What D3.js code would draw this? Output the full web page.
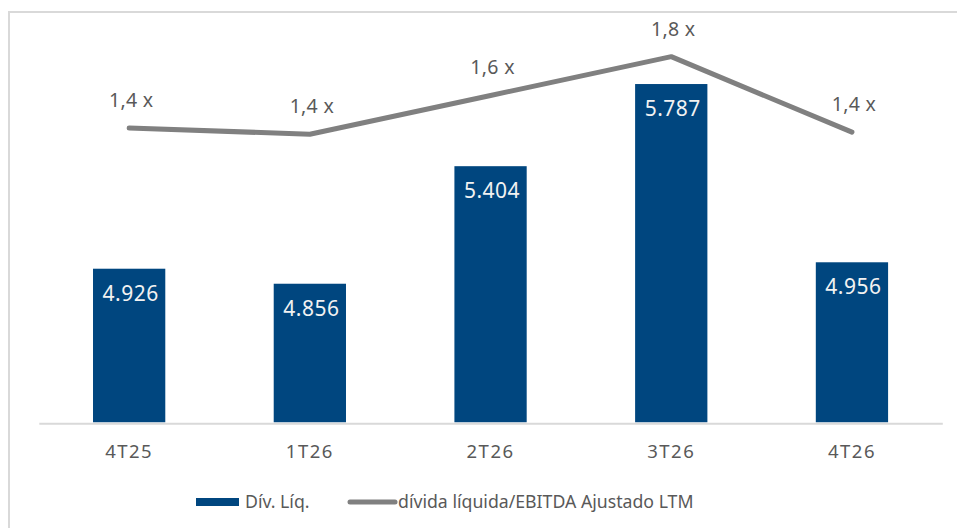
<!DOCTYPE html>
<head>
  <meta charset="utf-8">
  <script src="https://d3js.org/d3.v7.min.js"></script>
  <style>
    body { margin:0; background:#fff; }
    svg { display:block; font-family:"Segoe UI","Noto Sans","Open Sans",sans-serif; }
  </style>
</head>
<body>
<script>
  // data
  const periods = ['4T25', '1T26', '2T26', '3T26', '4T26'];
  const divLiq = [4926, 4856, 5404, 5787, 4956];
  const leverage = [1.43, 1.40, 1.59, 1.78, 1.41];
  const seriesNames = ['Dív. Líq.', 'dívida líquida/EBITDA Ajustado LTM'];

  const W = 957, H = 528;
  const blue = '#00467f', gray = '#808080', textGray = '#595959';

  const ptBR = d3.formatLocale({ decimal: ',', thousands: '.', grouping: [3], currency: ['R$', ''] });
  const fmtBar = ptBR.format(',.0f');
  const fmtX = v => ptBR.format('.1f')(v) + ' x';

  const svg = d3.select('body').append('svg')
    .attr('width', W)
    .attr('height', H);

  // chart frame (right/bottom edges fall outside the picture)
  svg.append('rect')
    .attr('x', 9).attr('y', 12)
    .attr('width', 980).attr('height', 560)
    .attr('fill', 'none')
    .attr('stroke', '#d9d9d9')
    .attr('stroke-width', 2);

  const x = d3.scaleBand()
    .domain(periods)
    .range([38.8, 942.3])
    .paddingInner(0.6)
    .paddingOuter(0.3);

  const y = d3.scaleLinear()
    .domain([4210, 6000])
    .range([422.3, 422.3 - 1.79 * 214.5]);

  const y2 = d3.scaleLinear()
    .domain([1.0, 2.0])
    .range([215.8, 11.8]);

  // bars
  svg.append('g')
    .selectAll('rect')
    .data(divLiq)
    .join('rect')
      .attr('x', (d, i) => x(periods[i]))
      .attr('y', d => y(d))
      .attr('width', x.bandwidth())
      .attr('height', d => y.range()[0] - y(d))
      .attr('fill', blue);

  svg.append('g')
    .selectAll('text')
    .data(divLiq)
    .join('text')
      .attr('x', (d, i) => x(periods[i]) + x.bandwidth() / 2 + 1.5)
      .attr('y', d => y(d) + 32)
      .attr('text-anchor', 'middle')
      .attr('fill', '#f2f2f2')
      .style('font-size', '21px')
      .style('letter-spacing', '0.5px')
      .text(d => fmtBar(d));

  // x axis
  const xAxis = svg.append('g')
    .attr('transform', `translate(0,${y.range()[0] + 1})`)
    .call(d3.axisBottom(x).tickSize(0).tickPadding(22));
  xAxis.select('.domain').attr('stroke', '#d9d9d9').attr('stroke-width', 2);
  xAxis.selectAll('text')
    .attr('fill', textGray)
    .style('font-size', '18.5px')
    .style('font-family', '"Segoe UI","Noto Sans","Open Sans",sans-serif')
    .style('letter-spacing', '1.5px');

  // leverage line
  const line = d3.line()
    .x((d, i) => x(periods[i]) + x.bandwidth() / 2)
    .y(d => y2(d));

  svg.append('path')
    .datum(leverage)
    .attr('d', line)
    .attr('fill', 'none')
    .attr('stroke', gray)
    .attr('stroke-width', 5)
    .attr('stroke-linecap', 'round')
    .attr('stroke-linejoin', 'round');

  svg.append('g')
    .selectAll('text')
    .data(leverage)
    .join('text')
      .attr('x', (d, i) => x(periods[i]) + x.bandwidth() / 2 + 2)
      .attr('y', d => y2(d) - 21)
      .attr('text-anchor', 'middle')
      .attr('fill', textGray)
      .style('font-size', '19.5px')
      .style('letter-spacing', '0.3px')
      .text(d => fmtX(d));

  // legend
  const legend = svg.append('g');
  legend.append('rect')
    .attr('x', 196).attr('y', 498)
    .attr('width', 43).attr('height', 8)
    .attr('fill', blue);
  legend.append('text')
    .attr('x', 245).attr('y', 508)
    .attr('fill', textGray)
    .style('font-size', '17.7px')
    .text(seriesNames[0]);
  legend.append('line')
    .attr('x1', 350).attr('x2', 395)
    .attr('y1', 502).attr('y2', 502)
    .attr('stroke', gray)
    .attr('stroke-width', 5)
    .attr('stroke-linecap', 'round');
  legend.append('text')
    .attr('x', 398).attr('y', 508)
    .attr('fill', textGray)
    .style('font-size', '17.7px')
    .text(seriesNames[1]);
</script>
</body>
